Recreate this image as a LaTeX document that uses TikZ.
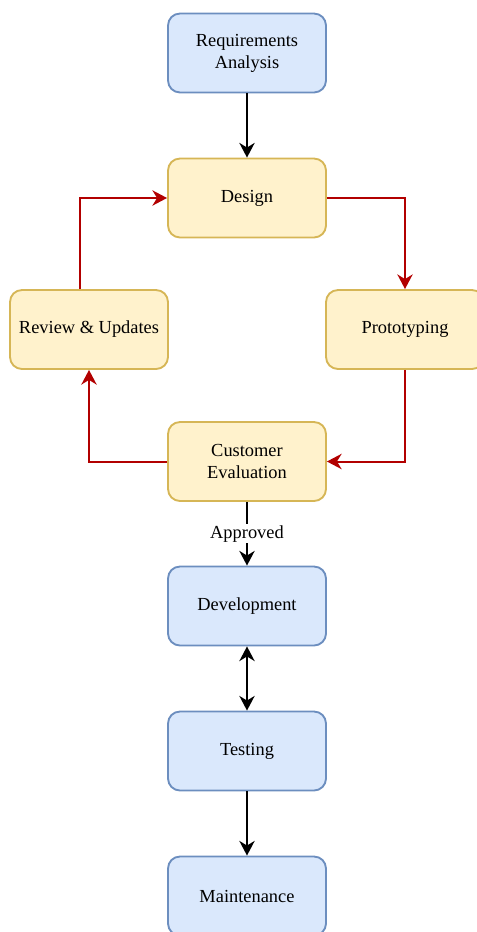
\documentclass[tikz,border=0pt]{standalone}
\usepackage{fontspec}
\setmainfont{Liberation Serif}
\usepackage{tikz}
\usetikzlibrary{arrows.meta}

\definecolor{bluefill}{HTML}{DAE8FC}
\definecolor{bluedraw}{HTML}{6C8EBF}
\definecolor{yellowfill}{HTML}{FFF2CC}
\definecolor{yellowdraw}{HTML}{D6B656}
\definecolor{loopred}{HTML}{B20000}

\tikzset{
    box/.style={draw, line width=1.4pt, rounded corners=9pt, minimum width=118.5pt,
        minimum height=59.25pt, align=center, font=\fontsize{13.8}{16.5}\selectfont},
    bluebox/.style={box, fill=bluefill, draw=bluedraw},
    yellowbox/.style={box, fill=yellowfill, draw=yellowdraw},
    tip/.tip={Stealth[length=11pt, width=11.5pt, inset=3.5pt]},
    flow/.style={line width=1.5pt, -tip},
    loop/.style={flow, draw=loopred}
}

\begin{document}
\begin{tikzpicture}[x=0.75pt, y=-0.75pt]
    \clip (0,0) rectangle (477,932);
    \node[bluebox] (req) at (247,53) {Requirements\\Analysis};
    \node[yellowbox] (design) at (247,198) {Design};
    \node[yellowbox] (review) at (89,329.5) {Review \& Updates};
    \node[yellowbox] (proto) at (405,329.5) {Prototyping};
    \node[yellowbox] (eval) at (247,461.5) {Customer\\Evaluation};
    \node[bluebox] (dev) at (247,606) {Development};
    \node[bluebox] (test) at (247,751) {Testing};
    \node[bluebox] (maint) at (247,896) {Maintenance};

    \draw[flow] (req) -- (design);
    \draw[loop] (design.east) -| (proto.north);
    \draw[loop] (proto.south) |- (eval.east);
    \draw[loop] (eval.west) -| (review.south);
    \draw[loop] ([xshift=-6.75pt]review.north) |- (design.west);
    \draw[flow] (eval) -- node[fill=white, inner sep=1pt,
        font=\fontsize{13.8}{16.5}\selectfont, pos=0.5] {Approved} (dev);
    \draw[flow, tip-tip] (dev) -- (test);
    \draw[flow] (test) -- (maint);
\end{tikzpicture}
\end{document}
